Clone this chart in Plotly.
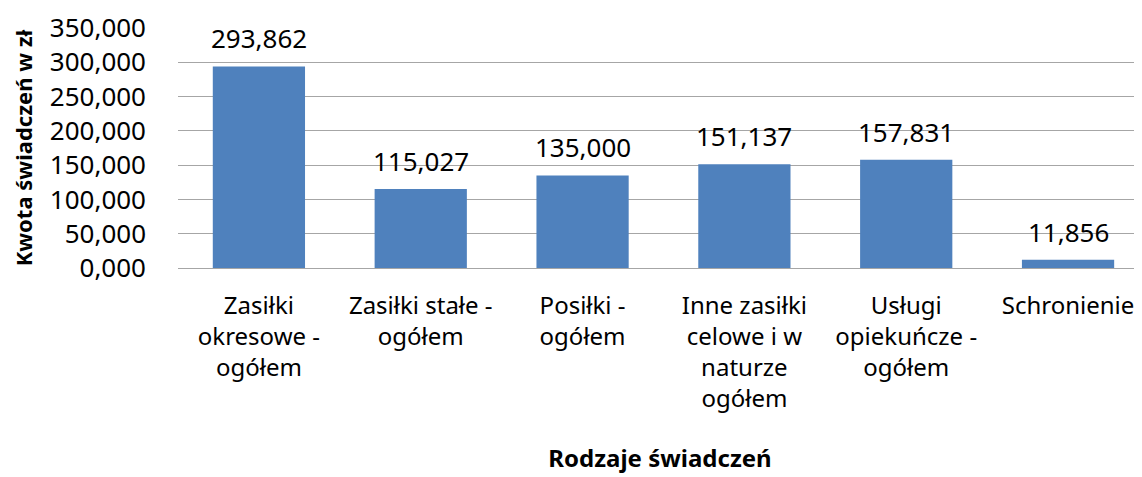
import plotly.graph_objects as go

categories = [
    "Zasiłki<br>okresowe -<br>ogółem",
    "Zasiłki stałe -<br>ogółem",
    "Posiłki -<br>ogółem",
    "Inne zasiłki<br>celowe i w<br>naturze<br>ogółem",
    "Usługi<br>opiekuńcze -<br>ogółem",
    "Schronienie",
]
values = [293.862, 115.027, 135.000, 151.137, 157.831, 11.856]
y_ticks = [0, 50, 100, 150, 200, 250, 300, 350]

FONT = "Noto Sans"

fig = go.Figure(
    go.Bar(
        x=categories,
        y=values,
        marker=dict(color="#4F81BD", line=dict(width=0)),
        width=0.57,
        cliponaxis=False,
    )
)

for c, v in zip(categories, values):
    fig.add_annotation(
        x=c, y=v, xref="x", yref="y",
        text=f"{v:.3f}".replace(".", ","),
        showarrow=False, yanchor="bottom", yshift=8,
        font=dict(family=FONT, size=26, color="#000000"),
    )

fig.update_layout(
    width=1134,
    height=469,
    margin=dict(l=170, r=0, t=20, b=209),
    paper_bgcolor="white",
    plot_bgcolor="white",
    separators=",.",
    showlegend=False,
    font=dict(family=FONT, size=24, color="#000000"),
)

fig.update_xaxes(
    range=[-0.5, 5.457],
    automargin=False,
    showline=True,
    linecolor="#A6A6A6",
    linewidth=1,
    ticks="",
    ticklabelstandoff=16,
    tickfont=dict(family=FONT, size=24),
    title=dict(text="<b>Rodzaje świadczeń</b>", font=dict(family=FONT, size=24), standoff=36),
)

fig.update_yaxes(
    range=[0, 350],
    automargin=False,
    tickvals=y_ticks,
    tickformat=".3f",
    showgrid=True,
    gridcolor="#A6A6A6",
    gridwidth=1,
    zeroline=False,
    showline=False,
    ticks="",
    ticklabelstandoff=31,
    tickfont=dict(family=FONT, size=26),
    title=dict(text="<b>Kwota świadczeń w zł</b>", font=dict(family=FONT, size=22), standoff=22),
)

fig.write_html("out.html")
